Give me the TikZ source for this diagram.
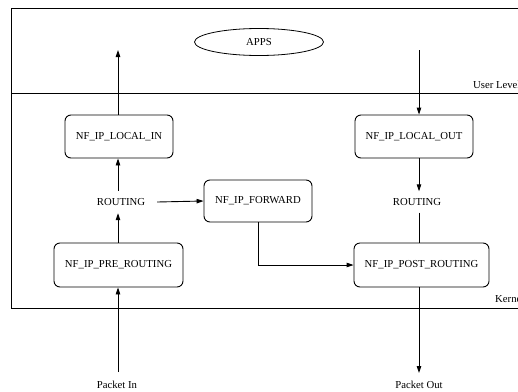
\documentclass[tikz,border=0pt]{standalone}
\usepackage{fontspec}
\setmainfont{Liberation Serif}
\usetikzlibrary{arrows.meta,shapes.geometric}
\begin{document}
\begin{tikzpicture}[x=1pt,y=-1pt,font=\fontsize{10.7}{12}\selectfont,
  box/.style={draw, rounded corners=6pt, line width=0.9pt, inner sep=0pt},
  arr/.style={-{Triangle[length=7pt,width=4.5pt]}, line width=0.9pt},
  ln/.style={line width=0.9pt},
  frame/.style={line width=1pt},
  lbl/.style={inner sep=0pt}]
\useasboundingbox (0,0) rectangle (518,391);
\fill[white] (0,0) rectangle (518,391);
\clip (0,0) rectangle (518,391);
% frame
\draw[frame] (530,8) -- (11,8) -- (11,308) -- (530,308);
\draw[frame] (11,93) -- (530,93);
\node[lbl, anchor=base west] (user) at (473,88.5) {User Level};
\node[lbl, anchor=base west] (kern) at (495,302.5) {Kernel};
% nodes
\node[draw, ellipse, minimum width=129pt, minimum height=27pt, inner sep=0pt, line width=0.8pt] (apps) at (259,42) {APPS};
\node[box, minimum width=108pt, minimum height=43pt] (localin) at (119,136.5) {NF\_IP\_LOCAL\_IN};
\node[box, minimum width=118pt, minimum height=43pt] (localout) at (414,136.5) {NF\_IP\_LOCAL\_OUT};
\node[box, minimum width=108pt, minimum height=42pt] (fwd) at (258,201) {NF\_IP\_FORWARD};
\node[box, minimum width=129pt, minimum height=44pt] (pre) at (118.5,265) {NF\_IP\_PRE\_ROUTING};
\node[box, minimum width=135pt, minimum height=44pt] (post) at (421.5,265) {NF\_IP\_POST\_ROUTING};
\node[lbl, minimum width=72pt, minimum height=22pt] (routeL) at (121,202) {ROUTING};
\node[lbl, minimum width=60pt, minimum height=21pt] (routeR) at (417,202) {ROUTING};
\node[anchor=north, inner xsep=0pt, inner ysep=9pt] (pin) at (117,372) {Packet In};
\node[anchor=north, inner xsep=0pt, inner ysep=8pt] (pout) at (419,373) {Packet Out};
\coordinate (uin) at (118,50);
\coordinate (uout) at (419,50);
% connectors
\draw[arr] (localin.north -| uin) -- (uin);
\draw[arr] (uout) -- (uout |- localout.north);
\draw[arr] (routeL.north -| uin) -- (localin.south -| uin);
\draw[arr] (pre.north -| uin) -- (routeL.south -| uin);
\draw[arr] (routeL.east) -- (fwd.west);
\draw[arr] (fwd.south) |- (post.west);
\draw[arr] (localout.south -| uout) -- (routeR.north -| uout);
\draw[ln] (routeR.south -| uout) -- (post.north -| uout);
\draw[arr] (pin.north -| uin) -- (pre.south -| uin);
\draw[arr] (post.south -| uout) -- (pout.north -| uout);
\end{tikzpicture}
\end{document}
